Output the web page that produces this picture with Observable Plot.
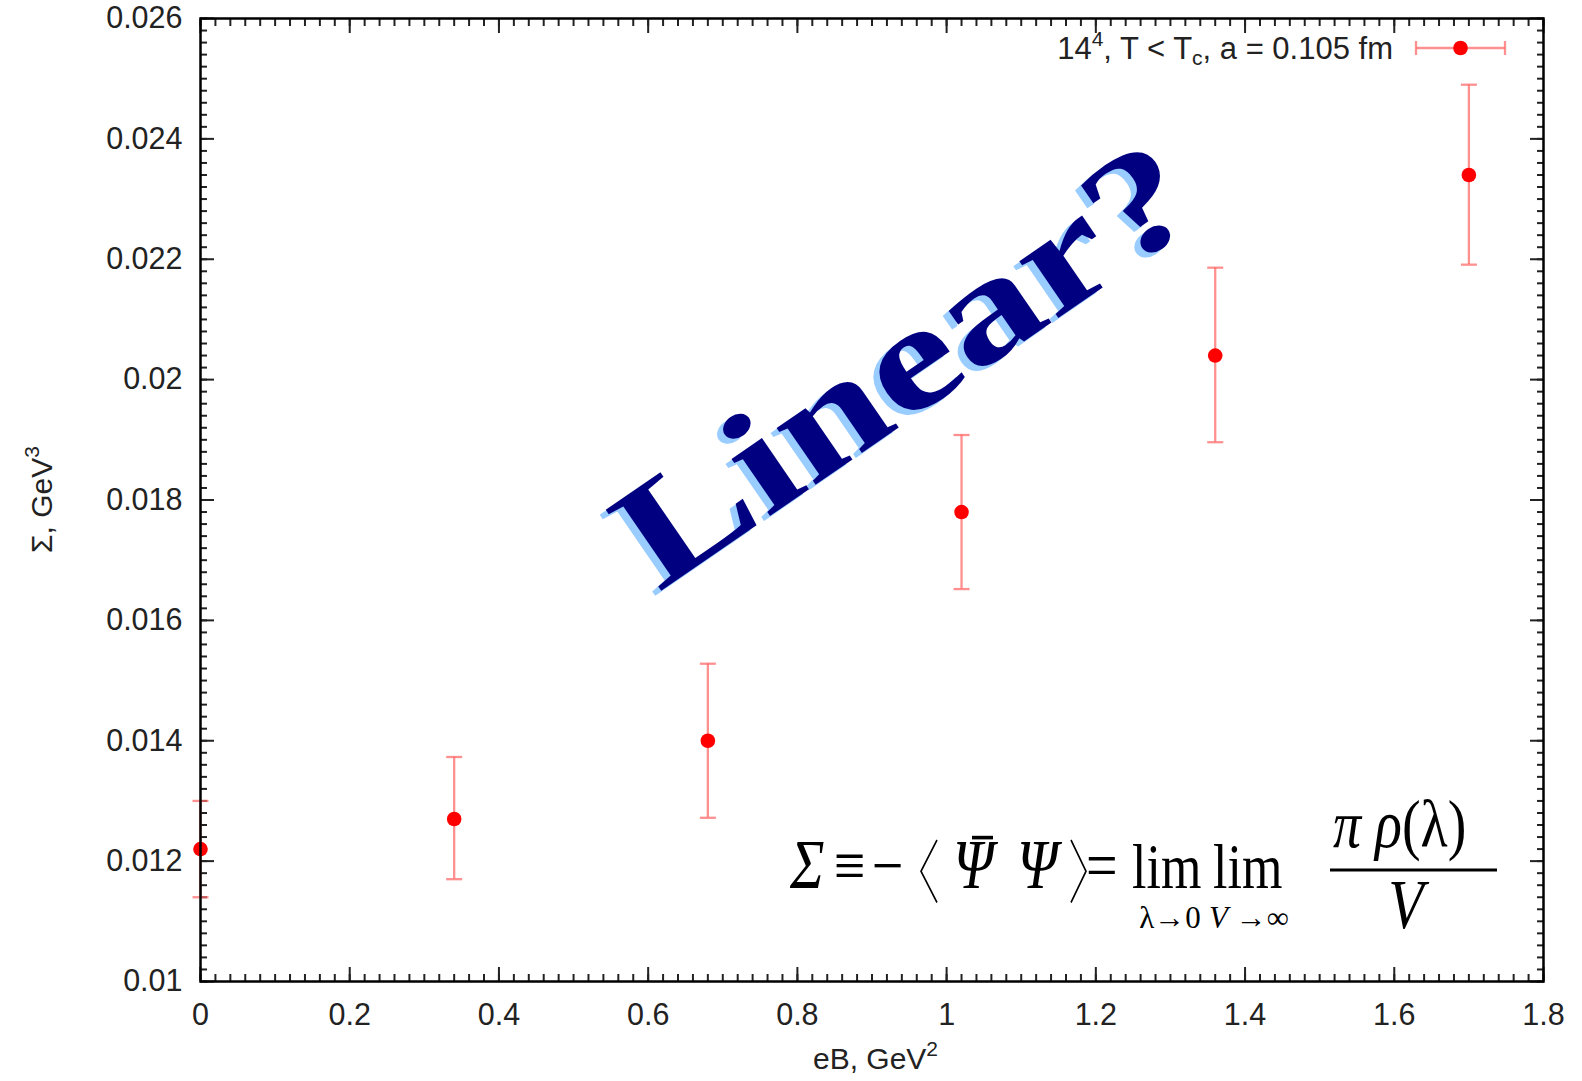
<!DOCTYPE html>
<html><head><meta charset="utf-8">
<script src="https://cdn.jsdelivr.net/npm/d3@7"></script>
<script src="https://cdn.jsdelivr.net/npm/@observablehq/plot@0.6"></script>
<style>
  html,body{margin:0;padding:0;background:#fff}
  #chart svg{display:block}
</style>
</head><body><div id="chart"></div>
<script>
// ---- data ----
const eB        = [0, 0.34, 0.68, 1.02, 1.36, 1.70];
const sigma     = [0.0122, 0.0127, 0.0140, 0.0178, 0.0204, 0.0234];
const sigmaLow  = [0.0114, 0.0117, 0.01272, 0.01652, 0.01896, 0.02191];
const sigmaHigh = [0.0130, 0.01373, 0.01528, 0.01908, 0.02186, 0.0249];

const xTicks = [0, 0.2, 0.4, 0.6, 0.8, 1.0, 1.2, 1.4, 1.6, 1.8];
const xTickLabels = ["0", "0.2", "0.4", "0.6", "0.8", "1", "1.2", "1.4", "1.6", "1.8"];
const yTicks = [0.01, 0.012, 0.014, 0.016, 0.018, 0.020, 0.022, 0.024, 0.026];
const yTickLabels = ["0.01", "0.012", "0.014", "0.016", "0.018", "0.02", "0.022", "0.024", "0.026"];

const xLabel = "eB, GeV";
const xLabelSup = "2";
const yLabel = "Σ, GeV";
const yLabelSup = "3";
const watermark = "Linear?";

const rows = eB.map((x, i) => ({x, y: sigma[i], lo: sigmaLow[i], hi: sigmaHigh[i]}));
const minorX = d3.range(0, 181, 2).map(d => d / 100);
const minorY = d3.range(100, 261, 2).map(d => d / 10000);

const capSymbol = {
  draw(ctx, size) {
    const w = Math.sqrt(size / Math.PI);
    ctx.moveTo(-w, 0); ctx.lineTo(w, 0);
  }
};
const xFmt = d => xTickLabels[xTicks.findIndex(t => Math.abs(t - d) < 1e-9)];
const yFmt = d => yTickLabels[yTicks.findIndex(t => Math.abs(t - d) < 1e-9)];
const blank = () => "";
const errColor = "#ff6b6b";
const sans = "'Liberation Sans', Arial, sans-serif";

const plot = Plot.plot({
  width: 1582,
  height: 1081,
  marginLeft: 200,
  marginRight: 39,
  marginTop: 18,
  marginBottom: 100,
  style: {fontFamily: sans, fontSize: "30px", background: "#fff", color: "#222"},
  x: {domain: [0, 1.8]},
  y: {domain: [0.01, 0.026]},
  marks: [
    Plot.axisX(xTicks, {anchor: "bottom", tickSize: 0, tickPadding: 22, tickFormat: xFmt, label: null, fontSize: 30.5, fill: "#222"}),
    Plot.axisY(yTicks, {anchor: "left", tickSize: 0, tickPadding: 18, tickFormat: yFmt, label: null, fontSize: 30.5, fill: "#222"}),
    // inward minor ticks (all four sides)
    Plot.axisX(minorX, {anchor: "bottom", tickSize: -7, tickFormat: blank, label: null, strokeWidth: 2}),
    Plot.axisX(minorX, {anchor: "top", tickSize: -7, tickFormat: blank, label: null, strokeWidth: 2}),
    Plot.axisY(minorY, {anchor: "left", tickSize: -7, tickFormat: blank, label: null, strokeWidth: 2}),
    Plot.axisY(minorY, {anchor: "right", tickSize: -7, tickFormat: blank, label: null, strokeWidth: 2}),
    // inward major ticks
    Plot.axisX(xTicks, {anchor: "bottom", tickSize: -14, tickFormat: blank, label: null, strokeWidth: 2}),
    Plot.axisX(xTicks, {anchor: "top", tickSize: -14, tickFormat: blank, label: null, strokeWidth: 2}),
    Plot.axisY(yTicks, {anchor: "left", tickSize: -14, tickFormat: blank, label: null, strokeWidth: 2}),
    Plot.axisY(yTicks, {anchor: "right", tickSize: -14, tickFormat: blank, label: null, strokeWidth: 2}),
    // error bars
    Plot.ruleX(rows, {x: "x", y1: "lo", y2: "hi", stroke: errColor, strokeWidth: 2.3, strokeOpacity: 0.75}),
    Plot.dot(rows, {x: "x", y: "lo", symbol: capSymbol, r: 8, stroke: errColor, strokeWidth: 2.3, strokeOpacity: 0.75}),
    Plot.dot(rows, {x: "x", y: "hi", symbol: capSymbol, r: 8, stroke: errColor, strokeWidth: 2.3, strokeOpacity: 0.75}),
    Plot.dot(rows, {x: "x", y: "y", r: 7.3, fill: "#ff0000", stroke: "none"}),
    Plot.frame({stroke: "#000", strokeWidth: 2.5})
  ]
});
document.getElementById("chart").appendChild(plot);

const svg = d3.select(plot);
const sx = plot.scale("x"), sy = plot.scale("y");
const X0 = sx.range[0], X1 = sx.range[1], Y1 = sy.range[0], Y0 = sy.range[1];

// axis titles
const xl = svg.append("text").attr("x", (X0 + X1) / 2 + 4).attr("y", Y1 + 88)
  .attr("text-anchor", "middle").attr("font-size", 30).attr("fill", "#222").attr("font-family", sans);
xl.append("tspan").text(xLabel);
xl.append("tspan").attr("font-size", 21).attr("dy", -13).text(xLabelSup);

const yl = svg.append("text").attr("transform", `translate(52,${(Y0 + Y1) / 2}) rotate(-90)`)
  .attr("text-anchor", "middle").attr("font-size", 30).attr("fill", "#222").attr("font-family", sans);
yl.append("tspan").text(yLabel);
yl.append("tspan").attr("font-size", 21).attr("dy", -13).text(yLabelSup);

// legend (top right, inside)
const lg = svg.append("g").attr("font-family", sans).attr("fill", "#222");
const lt = lg.append("text").attr("x", X1 - 150).attr("y", 59).attr("text-anchor", "end").attr("font-size", 31);
lt.append("tspan").text("14");
lt.append("tspan").attr("font-size", 21).attr("dy", -13).text("4");
lt.append("tspan").attr("dy", 13).text(", T < T");
lt.append("tspan").attr("font-size", 21).attr("dy", 6).text("c");
lt.append("tspan").attr("dy", -6).text(", a = 0.105 fm");
const ly = 48, lx0 = X1 - 127, lx1 = X1 - 38;
lg.append("line").attr("x1", lx0).attr("x2", lx1).attr("y1", ly).attr("y2", ly).attr("stroke", errColor).attr("stroke-width", 2.3).attr("stroke-opacity", 0.75);
[lx0, lx1].forEach(x => lg.append("line").attr("x1", x).attr("x2", x).attr("y1", ly - 7).attr("y2", ly + 7).attr("stroke", errColor).attr("stroke-width", 2.3).attr("stroke-opacity", 0.75));
lg.append("circle").attr("cx", (lx0 + lx1) / 2).attr("cy", ly).attr("r", 7.3).attr("fill", "#ff0000");

// "Linear?" watermark
const cx = sx.apply(0.942), cy = sy.apply(0.0203);
const wm = svg.append("g").attr("transform", `translate(${cx},${cy})`)
  .attr("font-family", "'Liberation Serif', 'Times New Roman', serif").attr("font-weight", "bold")
  .attr("font-size", 150).attr("text-anchor", "middle");
const ang = -34.5;
wm.append("text").attr("transform", `translate(-6,5) rotate(${ang})`).attr("dy", "0.35em")
  .attr("textLength", 665).attr("lengthAdjust", "spacingAndGlyphs").attr("fill", "#99ccff").text(watermark);
wm.append("text").attr("transform", `rotate(${ang})`).attr("dy", "0.35em")
  .attr("textLength", 665).attr("lengthAdjust", "spacingAndGlyphs").attr("fill", "#000080").text(watermark);

// formula annotation
const serif = "'Liberation Serif', 'Times New Roman', serif";
const f = svg.append("g").attr("font-family", serif).attr("fill", "#000");
const base = 888;
const inner = f.append("g").attr("transform", `translate(0,${base}) scale(1,1.2) translate(0,${-base})`);
const T = (x, y, s, size, italic, anchor) => inner.append("text").attr("x", x).attr("y", y)
  .attr("font-size", size).attr("font-style", italic ? "italic" : "normal")
  .attr("text-anchor", anchor || "start").text(s);
T(790, base, "Σ", 58, true);
T(834, base, "≡", 56, false);
T(872, base, "−", 56, false);
inner.append("path").attr("d", `M937,${base - 40} L921,${base - 14} L937,${base + 12}`).attr("fill", "none").attr("stroke", "#000").attr("stroke-width", 1.6);
T(953, base, "Ψ", 58, true);
inner.append("line").attr("x1", 972).attr("x2", 993).attr("y1", base - 42).attr("y2", base - 42).attr("stroke", "#000").attr("stroke-width", 3);
T(1017, base, "Ψ", 58, true);
inner.append("path").attr("d", `M1071,${base - 40} L1086,${base - 14} L1071,${base + 12}`).attr("fill", "none").attr("stroke", "#000").attr("stroke-width", 1.6);
T(1086, base, "=", 56, false);
T(1132, base, "lim", 52, false);
T(1213, base, "lim", 52, false);
// subscripts (unstretched, just below the limits)
const s1 = f.append("text").attr("x", 1170).attr("y", base + 40).attr("font-size", 31).attr("text-anchor", "middle");
s1.append("tspan").text("λ→0");
const s2 = f.append("text").attr("x", 1249).attr("y", base + 40).attr("font-size", 31).attr("text-anchor", "middle");
s2.append("tspan").attr("font-style", "italic").text("V");
s2.append("tspan").text(" →∞");
const num = inner.append("text").attr("x", 1333).attr("y", base - 34).attr("font-size", 56).attr("text-anchor", "start");
num.append("tspan").attr("font-style", "italic").text("π ρ");
num.append("tspan").text("(λ)");
inner.append("line").attr("x1", 1330).attr("x2", 1497).attr("y1", base - 15).attr("y2", base - 15).attr("stroke", "#000").attr("stroke-width", 2.5);
T(1406, base + 33, "V", 58, true, "middle");
</script>
</body></html>
